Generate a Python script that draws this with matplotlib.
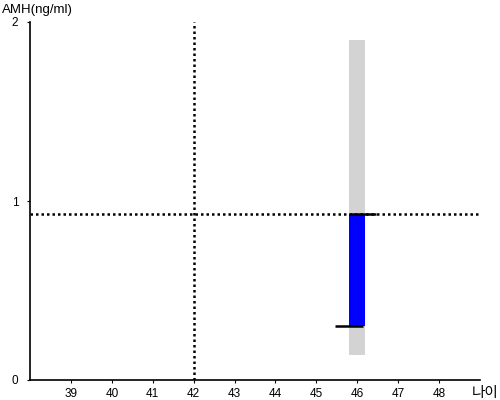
import matplotlib
matplotlib.use("Agg")
import matplotlib.pyplot as plt

plt.rcParams['font.family'] = ['Liberation Sans', 'Noto Sans CJK KR', 'DejaVu Sans']

# data
age = 46
range_low = 0.14
range_high = 1.90
value_low = 0.30
value_high = 0.93
ref_age = 42
ref_amh = 0.93
x_ticks = [39, 40, 41, 42, 43, 44, 45, 46, 47, 48]
y_ticks = [0, 1, 2]

fig = plt.figure(figsize=(5, 4), dpi=100)
ax = fig.add_axes([0.06, 0.05, 0.90, 0.895])
ax.set_xlim(38, 49)
ax.set_ylim(0, 2)

ax.bar([age], [range_high - range_low], bottom=[range_low], width=0.4,
       color='#d3d3d3', zorder=1)
ax.bar([age], [value_high - value_low], bottom=[value_low], width=0.4,
       color='#0000ff', zorder=2)
ax.plot([age - 0.2, age + 0.45], [value_high, value_high], color='black', lw=1.8, zorder=4,
        solid_capstyle='butt')
ax.plot([age - 0.55, age + 0.15], [value_low, value_low], color='black', lw=1.8, zorder=4,
        solid_capstyle='butt')

ax.axhline(ref_amh, color='black', lw=1.8, ls=(0, (1, 1.2)), zorder=3)
ax.axvline(ref_age, color='black', lw=1.8, ls=(0, (1, 1.2)), zorder=3)

for s in ['top', 'right']:
    ax.spines[s].set_visible(False)
for s in ['left', 'bottom']:
    ax.spines[s].set_linewidth(1.2)

ax.set_xticks(x_ticks)
ax.set_xticklabels([str(t) for t in x_ticks])
ax.set_yticks(y_ticks)
ax.set_yticklabels([str(t) for t in y_ticks])
ax.tick_params(axis='both', labelsize=8.5, length=2.5, width=0.8, colors='black', pad=3)
ax.tick_params(axis='y', pad=6)

fig.text(0.004, 0.975, 'AMH(ng/ml)', fontsize=9.5, ha='left', va='center')
fig.text(0.97, 0.018, '나이', fontsize=10.5, ha='center', va='center')

fig.savefig('out.png', dpi=100)
